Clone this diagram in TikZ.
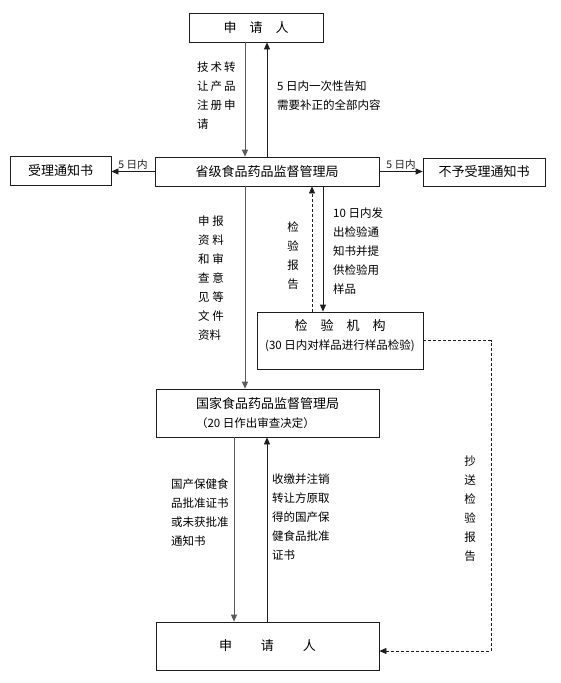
\documentclass[tikz,border=0pt]{standalone}
\usepackage{fontspec}
\setmainfont{Noto Sans CJK SC}
\usetikzlibrary{arrows.meta,calc}
\definecolor{frame}{HTML}{1E1E1E}
\definecolor{flow}{HTML}{5A5A5A}

\begin{document}
\begin{tikzpicture}[x=1pt,y=-1pt,
  box/.style={draw=frame,line width=0.8pt,inner sep=0pt,align=center,font=\fontsize{13}{19}\selectfont},
  note/.style={inner sep=0pt,align=left,anchor=north west,font=\fontsize{11.5}{19}\selectfont},
  vnote/.style={inner sep=0pt,align=center,anchor=north,font=\fontsize{11.5}{19}\selectfont},
  arr/.style={-{Triangle[length=7pt,width=6pt]},line width=0.8pt,frame},
  greyarr/.style={arr,flow},
  dashedarr/.style={arr,dash pattern=on 3pt off 2pt},
]
  \useasboundingbox (0,0) rectangle (560,683);

  % boxes
  \node[box,minimum width=134,minimum height=29] (app1) at (256,27.5) {申\quad 请\quad 人};
  \node[box,minimum width=224,minimum height=29] (prov) at (267,171.5) {省级食品药品监督管理局};
  \node[box,minimum width=101,minimum height=29] (accept) at (60.5,170.5) {受理通知书};
  \node[box,minimum width=122,minimum height=28] (reject) at (484,172) {不予受理通知书};
  \node[box,minimum width=166,minimum height=57,text depth=12pt] (lab) at (340,340.5)
    {检\quad 验\quad 机\quad 构\\{\fontsize{11.5}{19}\selectfont(30 日内对样品进行样品检验)}};
  \node[box,minimum width=223,minimum height=48,align=left] (nat) at (267.5,413)
    {国家食品药品监督管理局\\{\fontsize{11.5}{19}\selectfont（20 日作出审查决定）}};
  \node[box,minimum width=223,minimum height=48] (app2) at (267.5,646) {申\hspace{29pt}请\hspace{29pt}人};

  % columns of the connectors
  \coordinate (xa) at (245,0);
  \coordinate (xb) at (267,0);
  \coordinate (xr) at (312,0);
  \coordinate (xs) at (323,0);
  \coordinate (xn) at (234,0);
  \coordinate (xc) at (491,0);

  % applicant <-> province
  \draw[greyarr] (xa |- app1.south) -- (xa |- prov.north);
  \draw[arr] (xb |- prov.north) -- (xb |- app1.south);
  \node[note] (req) at (197,61.5) {技\,术\,转\\让\,产\,品\\注\,册\,申\\请};
  \node[note] (fix) at (277,80.5) {5 日内一次性告知\\需要补正的全部内容};

  % notices
  \draw[arr] (prov.west) -- node[above,inner sep=1.5pt,font=\fontsize{10.5}{12}\selectfont] (dl) {5 日内} (prov.west -| accept.east);
  \draw[arr] (prov.east) -- node[above,inner sep=1.5pt,font=\fontsize{10.5}{12}\selectfont] (dr) {5 日内} (prov.east -| reject.west);

  % province -> state, inspection
  \draw[greyarr] (xa |- prov.south) -- (xa |- nat.north);
  \node[note] (docs) at (198,215.5) {申 报\\资 料\\和 审\\查 意\\见 等\\文 件\\资料};
  \draw[arr] (xs |- prov.south) -- (xs |- lab.north);
  \draw[dashedarr] (xr |- lab.north) -- (xr |- prov.south);
  \node[vnote] (rpt) at (293,221.5) {检\\验\\报\\告};
  \node[note] (samp) at (333,207.5) {10 日内发\\出检验通\\知书并提\\供检验用\\样品};

  % state -> applicant
  \draw[greyarr] (xn |- nat.south) -- (xn |- app2.north);
  \draw[arr] (xb |- app2.north) -- (xb |- nat.south);
  \node[note] (grant) at (171,478.5) {国产保健食\\品批准证书\\或未获批准\\通知书};
  \node[note] (revoke) at (272,473.5) {收缴并注销\\转让方原取\\得的国产保\\健食品批准\\证书};

  % copy of the report
  \draw[dashedarr] (lab.east) -- (lab.east -| xc) |- ([yshift=-5pt]app2.east);
  \node[vnote] (copy) at (470,455.5) {抄\\送\\检\\验\\报\\告};
\end{tikzpicture}
\end{document}
